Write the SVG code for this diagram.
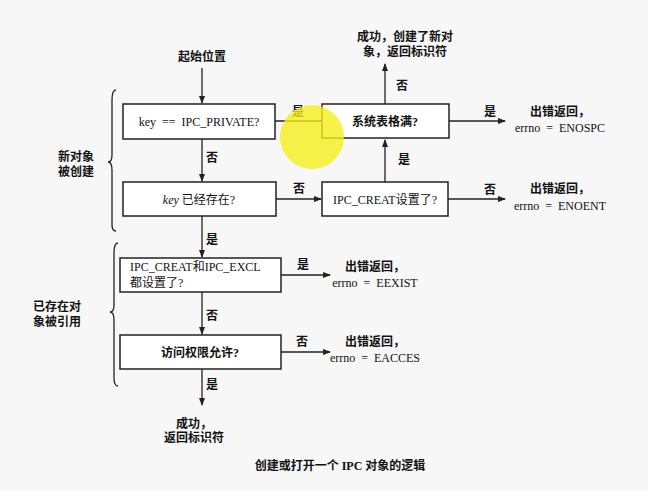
<svg xmlns="http://www.w3.org/2000/svg" width="648" height="491" viewBox="0 0 648 491">
<style>
text{font-family:"Liberation Serif","Noto Sans CJK SC",serif;font-size:12px;fill:#111;text-anchor:middle;white-space:pre}
.b{font-weight:bold}
.box{fill:#fff;stroke:#222;stroke-width:1.5}
.c line,.c path{stroke:#222;stroke-width:1.3;fill:none}
</style>
<defs><marker id="a" markerWidth="8" markerHeight="8" refX="7" refY="4" orient="auto" markerUnits="userSpaceOnUse"><path d="M0,1 L8,4 L0,7Z" fill="#222"/></marker></defs>
<rect width="648" height="491" fill="#f7f7f7"/>
<g class="c">
<line x1="202" y1="68" x2="202" y2="103" marker-end="url(#a)"/>
<line x1="275" y1="121" x2="330" y2="121" marker-end="url(#a)"/>
<line x1="385" y1="104" x2="385" y2="64" marker-end="url(#a)"/>
<line x1="385" y1="182" x2="385" y2="140" marker-end="url(#a)"/>
<line x1="449" y1="121" x2="505" y2="121" marker-end="url(#a)"/>
<line x1="202" y1="139" x2="202" y2="181" marker-end="url(#a)"/>
<line x1="276" y1="199" x2="321" y2="199" marker-end="url(#a)"/>
<line x1="448" y1="199" x2="505" y2="199" marker-end="url(#a)"/>
<line x1="202" y1="216" x2="202" y2="257" marker-end="url(#a)"/>
<line x1="281" y1="275" x2="330" y2="275" marker-end="url(#a)"/>
<line x1="202" y1="292" x2="202" y2="334" marker-end="url(#a)"/>
<line x1="281" y1="352" x2="330" y2="352" marker-end="url(#a)"/>
<line x1="202" y1="369" x2="202" y2="405" marker-end="url(#a)"/>
<path d="M116,90 Q112,90 112,100 V155 Q112,162 108,162 Q112,162 112,170 V225 Q112,231 116,231"/>
<path d="M118,243 Q114,243 114,253 V305 Q114,312 110,312 Q114,312 114,320 V378 Q114,386 118,386"/>
</g>
<g id="start"><text class="b" x="202" y="61">起始位置</text></g>
<g id="n1"><rect class="box" x="123" y="104" width="152" height="35"/><text x="199" y="126">key  ==  IPC_PRIVATE?</text></g>
<g id="n2"><rect class="box" x="322" y="104" width="127" height="34"/><text class="b" x="385" y="126">系统表格满?</text></g>
<g id="n3"><rect class="box" x="123" y="182" width="153" height="34"/><text x="199" y="204"><tspan font-style="italic">key</tspan> 已经存在?</text></g>
<g id="n4"><rect class="box" x="322" y="182" width="126" height="34"/><text x="385" y="204">IPC_CREAT设置了?</text></g>
<g id="n5"><rect class="box" x="120" y="258" width="161" height="34"/><text x="130" y="271" style="text-anchor:start">IPC_CREAT和IPC_EXCL</text><text x="130" y="287" style="text-anchor:start">都设置了?</text></g>
<g id="n6"><rect class="box" x="120" y="335" width="161" height="34"/><text class="b" x="200" y="357">访问权限允许?</text></g>
<g id="labels">
<text class="b" x="405" y="41">成功，创建了新对</text><text class="b" x="405" y="56">象，返回标识符</text>
<text class="b" x="298" y="116">是</text><text class="b" x="402" y="90">否</text><text class="b" x="404" y="164">是</text>
<text class="b" x="490" y="116">是</text><text class="b" x="212" y="162">否</text><text class="b" x="299" y="193">否</text>
<text class="b" x="490" y="194">否</text><text class="b" x="212" y="244">是</text><text class="b" x="303" y="269">是</text>
<text class="b" x="212" y="320">否</text><text class="b" x="302" y="346">否</text><text class="b" x="212" y="389">是</text>
<text class="b" x="560" y="116">出错返回，</text><text x="560" y="132">errno  =  ENOSPC</text>
<text class="b" x="560" y="193">出错返回，</text><text x="560" y="210">errno  =  ENOENT</text>
<text class="b" x="375" y="271">出错返回，</text><text x="375" y="287">errno  =  EEXIST</text>
<text class="b" x="375" y="346">出错返回，</text><text x="375" y="362">errno  =  EACCES</text>
<text class="b" x="194" y="428">成功，</text><text class="b" x="194" y="442">返回标识符</text>
<text class="b" x="76" y="161">新对象</text><text class="b" x="76" y="176">被创建</text>
<text class="b" x="57" y="311">已存在对</text><text class="b" x="57" y="326">象被引用</text>
<text class="b" x="340" y="470">创建或打开一个 IPC 对象的逻辑</text>
</g>
<circle cx="312" cy="137" r="32" fill="#f5ef1c" opacity="0.8"/>
</svg>
